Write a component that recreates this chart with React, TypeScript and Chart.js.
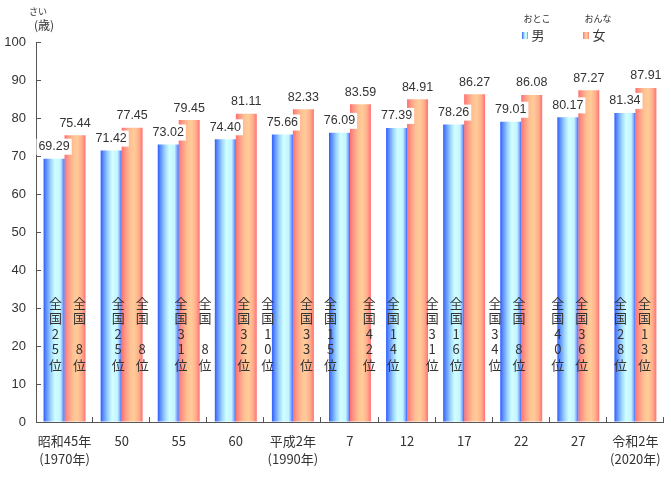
import React, { useEffect, useRef } from "react";
import { Chart, registerables } from "chart.js";

Chart.register(...registerables);

const categories: (string | string[])[] = [
  ["昭和45年", "(1970年)"], "50", "55", "60", ["平成2年", "(1990年)"],
  "7", "12", "17", "22", "27", ["令和2年", "(2020年)"],
];
const maleValues = [69.29, 71.42, 73.02, 74.4, 75.66, 76.09, 77.39, 78.26, 79.01, 80.17, 81.34];
const femaleValues = [75.44, 77.45, 79.45, 81.11, 82.33, 83.59, 84.91, 86.27, 86.08, 87.27, 87.91];
const maleRanks = [25, 25, 31, 32, 33, 42, 31, 34, 40, 28];
const femaleRanks = [8, 8, 8, 10, 15, 14, 16, 8, 36, 13];
const yMin = 0;
const yMax = 100;
const yStep = 10;
const rankTextValue = 31.3;

const CAT_PCT = 0.735;
const NUM_FONT = "'Liberation Sans', 'Noto Sans CJK JP', sans-serif";
const JP_FONT = "'Noto Sans CJK JP', 'Liberation Sans', sans-serif";
const TEXT_COLOR = "#333333";
const AXIS_COLOR = "#555555";

const maleStops: [number, string][] = [
  [0, "#2f5bff"], [0.12, "#5a8cff"], [0.35, "#9fd6ff"], [0.55, "#cfffff"],
  [0.8, "#c4f4ff"], [0.92, "#7fa8ff"], [1, "#3a63ff"],
];
const femaleStops: [number, string][] = [
  [0, "#ff6e6e"], [0.15, "#ff9484"], [0.4, "#ffc092"], [0.6, "#ffcc99"],
  [0.82, "#ffae8c"], [1, "#ff7272"],
];

function makeGradient(ctx: any, datasetIndex: number, fallback: string) {
  const chart = ctx.chart;
  const xs = chart.scales && chart.scales.x;
  if (!xs || !xs.width) return fallback;
  const catW = xs.width / categories.length;
  const barW = (catW * CAT_PCT) / 2;
  const center = xs.getPixelForValue(ctx.dataIndex);
  if (!isFinite(center) || !isFinite(barW)) return fallback;
  const left = datasetIndex === 0 ? center - barW : center;
  const g = chart.ctx.createLinearGradient(left, 0, left + barW, 0);
  const stops = datasetIndex === 0 ? maleStops : femaleStops;
  stops.forEach(([o, c]) => g.addColorStop(o, c));
  return g;
}

const axisPlugin = {
  id: "axisTicks",
  afterDatasetsDraw(chart: any) {
    const { ctx, chartArea, scales } = chart;
    const ys = scales.y;
    ctx.save();
    ctx.strokeStyle = AXIS_COLOR;
    ctx.lineWidth = 1;
    ctx.beginPath();
    ys.ticks.forEach((t: any) => {
      const y = Math.round(ys.getPixelForValue(t.value)) + 0.5;
      ctx.moveTo(chartArea.left, y);
      ctx.lineTo(chartArea.left + 5, y);
    });
    const n = categories.length;
    const w = chartArea.width / n;
    for (let i = 1; i <= n; i++) {
      const x = Math.round(chartArea.left + w * i) - 0.5;
      ctx.moveTo(x, chartArea.bottom);
      ctx.lineTo(x, chartArea.bottom - 5);
    }
    ctx.stroke();
    ctx.restore();
  },
};

const valueLabelPlugin = {
  id: "valueLabels",
  afterDatasetsDraw(chart: any) {
    const { ctx } = chart;
    ctx.save();
    ctx.font = `12.5px ${NUM_FONT}`;
    ctx.textAlign = "center";
    ctx.textBaseline = "middle";
    chart.data.datasets.forEach((ds: any, di: number) => {
      const meta = chart.getDatasetMeta(di);
      meta.data.forEach((el: any, i: number) => {
        const text = Number(ds.data[i]).toFixed(2);
        const y = el.y - 12;
        const tw = ctx.measureText(text).width;
        ctx.fillStyle = "#ffffff";
        ctx.fillRect(el.x - tw / 2 - 2, y - 8, tw + 4, 16);
        ctx.fillStyle = TEXT_COLOR;
        ctx.fillText(text, el.x, y);
      });
    });
    ctx.restore();
  },
};

function rankChars(r: number) {
  const digits = String(r).split("");
  if (digits.length === 1) digits.unshift(" ");
  return ["全", "国", ...digits, "位"];
}

const rankPlugin = {
  id: "ranks",
  afterDatasetsDraw(chart: any) {
    const { ctx, chartArea, scales } = chart;
    const n = maleRanks.length;
    const slot = chartArea.width / n;
    const y0 = scales.y.getPixelForValue(rankTextValue);
    ctx.save();
    ctx.font = `13px ${JP_FONT}`;
    ctx.fillStyle = TEXT_COLOR;
    ctx.textAlign = "center";
    ctx.textBaseline = "middle";
    for (let i = 0; i < n; i++) {
      const c = chartArea.left + slot * (i + 0.5);
      [[maleRanks[i], c - 12], [femaleRanks[i], c + 12]].forEach(([r, x]) => {
        rankChars(r).forEach((ch, k) => {
          if (ch !== " ") ctx.fillText(ch, x, y0 + k * 15.5);
        });
      });
    }
    ctx.restore();
  },
};

const headerPlugin = {
  id: "header",
  afterDraw(chart: any) {
    const { ctx } = chart;
    ctx.save();
    ctx.fillStyle = TEXT_COLOR;
    ctx.textAlign = "center";
    ctx.textBaseline = "middle";
    // y-axis title
    ctx.font = `9px ${JP_FONT}`;
    ctx.fillText("さい", 38, 12);
    ctx.font = `12px ${JP_FONT}`;
    ctx.fillText("(歳)", 44, 25);
    // legend
    const items: [string, string, number, [number, string][]][] = [
      ["おとこ", "男", 525, maleStops],
      ["おんな", "女", 586, femaleStops],
    ];
    items.forEach(([ruby, label, x, stops]) => {
      const g = ctx.createLinearGradient(x - 3, 0, x + 3, 0);
      stops.forEach(([o, c]) => g.addColorStop(o, c));
      ctx.fillStyle = g;
      ctx.fillRect(x - 3, 32, 6, 7);
      ctx.fillStyle = TEXT_COLOR;
      ctx.font = `13px ${JP_FONT}`;
      ctx.fillText(label, x + 13, 35);
      ctx.font = `9px ${JP_FONT}`;
      ctx.fillText(ruby, x + 12, 19);
    });
    ctx.restore();
  },
};

export default function App() {
  const ref = useRef<HTMLCanvasElement | null>(null);
  useEffect(() => {
    document.body.style.margin = "0";
    if (!ref.current) return;
    const chart = new Chart(ref.current, {
      type: "bar",
      data: {
        labels: categories,
        datasets: [
          {
            label: "男",
            data: maleValues,
            backgroundColor: (c: any) => makeGradient(c, 0, "#7fb0ff"),
            borderWidth: 0,
            categoryPercentage: CAT_PCT,
            barPercentage: 1,
          },
          {
            label: "女",
            data: femaleValues,
            backgroundColor: (c: any) => makeGradient(c, 1, "#ffaa88"),
            borderWidth: 0,
            categoryPercentage: CAT_PCT,
            barPercentage: 1,
          },
        ],
      },
      options: {
        responsive: false,
        animation: false,
        events: [],
        layout: { padding: { top: 42, right: 6, left: 0, bottom: 0 } },
        plugins: {
          legend: { display: false },
          tooltip: { enabled: false },
          title: { display: false },
        },
        scales: {
          x: {
            grid: { display: true, drawOnChartArea: false, drawTicks: false, offset: true },
            border: { display: true, color: AXIS_COLOR, width: 1 },
            ticks: {
              autoSkip: false,
              maxRotation: 0,
              minRotation: 0,
              padding: 10,
              color: TEXT_COLOR,
              font: { family: JP_FONT, size: 13, lineHeight: 1.4 },
            },
            afterFit: (s: any) => {
              s.height = 74;
            },
          },
          y: {
            min: yMin,
            max: yMax,
            grid: { display: true, drawOnChartArea: false, drawTicks: false },
            border: { display: true, color: AXIS_COLOR, width: 1 },
            ticks: {
              stepSize: yStep,
              padding: 10,
              color: TEXT_COLOR,
              font: { family: NUM_FONT, size: 13 },
            },
            afterFit: (s: any) => {
              s.width = 36;
            },
          },
        },
      },
      plugins: [axisPlugin, valueLabelPlugin, rankPlugin, headerPlugin],
    });
    return () => chart.destroy();
  }, []);
  return (
    <div style={{ width: 671, height: 496 }}>
      <canvas ref={ref} width={671} height={496} style={{ display: "block" }} />
    </div>
  );
}
